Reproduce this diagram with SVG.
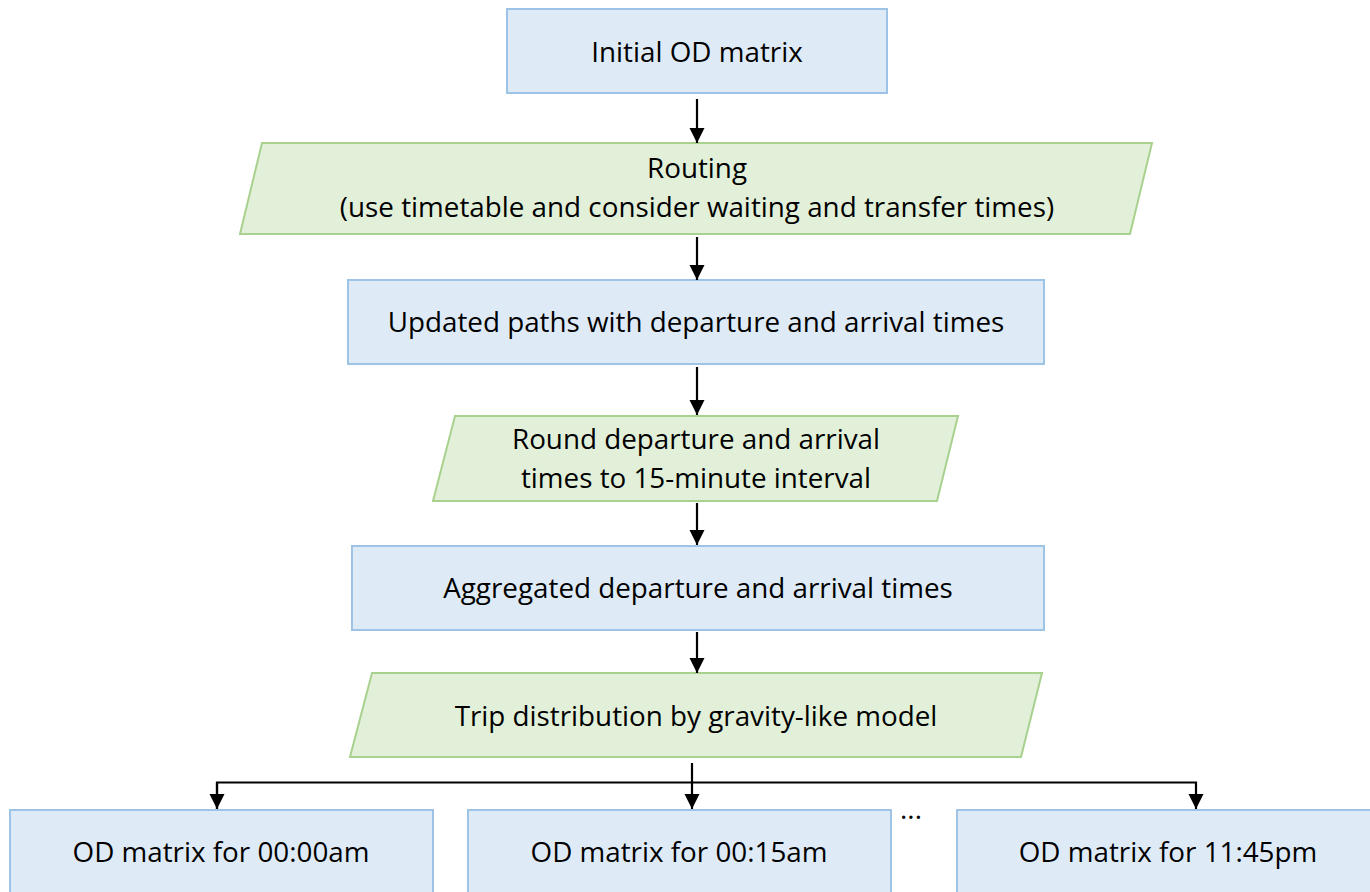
<svg xmlns="http://www.w3.org/2000/svg" width="1370" height="892" viewBox="0 0 1370 892">
  <style>
    .box { fill: #DEEBF7; stroke: #9DC3E6; stroke-width: 2; }
    .io { fill: #E2F0D9; stroke: #A9D18E; stroke-width: 2; }
    .lbl { font-family: "Open Sans", "Noto Sans", sans-serif; font-size: 27.8px; fill: #000; text-anchor: middle; }
    .conn { stroke: #000; stroke-width: 2.2; fill: none; }
  </style>
  <defs>
    <marker id="arr" markerUnits="userSpaceOnUse" markerWidth="16" markerHeight="16" viewBox="0 0 16 16" refX="15" refY="8" orient="auto">
      <path d="M0,0.5 L15,8 L0,15.5 z" fill="#000"/>
    </marker>
  </defs>
  <rect width="1370" height="892" fill="#fff"/>

  <g id="n-initial">
    <rect class="box" x="507" y="9" width="380" height="84"/>
    <text class="lbl" x="697" y="62">Initial OD matrix</text>
  </g>
  <g id="n-routing">
    <polygon class="io" points="262,143 1152,143 1130,234 240,234"/>
    <text class="lbl" x="697" y="178">Routing</text>
    <text class="lbl" x="697" y="217">(use timetable and consider waiting and transfer times)</text>
  </g>
  <g id="n-updated">
    <rect class="box" x="348" y="280" width="696" height="84"/>
    <text class="lbl" x="696" y="332">Updated paths with departure and arrival times</text>
  </g>
  <g id="n-round">
    <polygon class="io" points="455,416 958,416 937,501 433,501"/>
    <text class="lbl" x="696" y="449">Round departure and arrival</text>
    <text class="lbl" x="696" y="488">times to 15-minute interval</text>
  </g>
  <g id="n-aggregated">
    <rect class="box" x="352" y="546" width="692" height="84"/>
    <text class="lbl" x="698" y="598">Aggregated departure and arrival times</text>
  </g>
  <g id="n-trip">
    <polygon class="io" points="372,673 1042,673 1021,757 350,757"/>
    <text class="lbl" x="696" y="726">Trip distribution by gravity-like model</text>
  </g>
  <g id="n-od0000">
    <rect class="box" x="10" y="810" width="423" height="100"/>
    <text class="lbl" x="221" y="862">OD matrix for 00:00am</text>
  </g>
  <g id="n-od0015">
    <rect class="box" x="468" y="810" width="423" height="100"/>
    <text class="lbl" x="679" y="862">OD matrix for 00:15am</text>
  </g>
  <g id="n-od2345">
    <rect class="box" x="957" y="810" width="423" height="100"/>
    <text class="lbl" x="1168" y="862">OD matrix for 11:45pm</text>
  </g>
  <g id="ellipsis">
    <text class="lbl" x="911" y="819">...</text>
  </g>

  <g id="connectors">
    <line class="conn" x1="697" y1="99" x2="697" y2="143" marker-end="url(#arr)"/>
    <line class="conn" x1="697" y1="237" x2="697" y2="280" marker-end="url(#arr)"/>
    <line class="conn" x1="697" y1="367" x2="697" y2="415" marker-end="url(#arr)"/>
    <line class="conn" x1="697" y1="503" x2="697" y2="545" marker-end="url(#arr)"/>
    <line class="conn" x1="697" y1="632" x2="697" y2="673" marker-end="url(#arr)"/>
    <line class="conn" x1="692" y1="763" x2="692" y2="809" marker-end="url(#arr)"/>
    <polyline class="conn" points="217,809 217,782.5 1196,782.5 1196,809" marker-end="url(#arr)"/>
    <line class="conn" x1="217" y1="783" x2="217" y2="809" marker-end="url(#arr)"/>
  </g>
</svg>
